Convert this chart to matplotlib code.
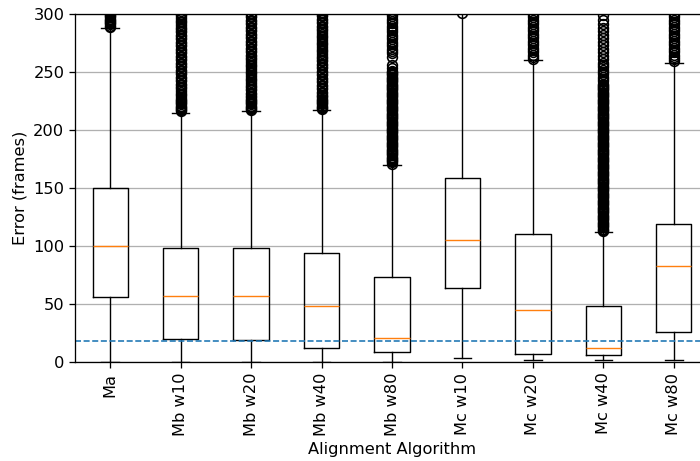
import matplotlib
matplotlib.use('Agg')
import matplotlib.pyplot as plt

labels = ['Ma', 'Mb w10', 'Mb w20', 'Mb w40', 'Mb w80',
          'Mc w10', 'Mc w20', 'Mc w40', 'Mc w80']
medians = [100, 57, 57, 48, 21, 105, 45, 12, 83]
q1s = [56, 20, 19, 12, 9, 64, 7, 6, 26]
q3s = [150, 98, 98, 94, 73, 159, 110, 48, 119]
whis_lo = [0, 0, 0, 0, 0, 3, 2, 2, 2]
whis_hi = [288, 215, 216, 217, 170, 302, 260, 112, 258]

# outliers (columns are very dense in the original)
fliers = [
    [289, 290, 291, 292, 293, 294, 295, 296, 297, 298, 299, 300, 301],
    [216, 217, 218, 219, 220, 221, 222, 223, 224, 225, 226, 227, 228, 230, 231,
     233, 234, 236, 237, 239, 240, 242, 243, 245, 246, 248, 249, 251, 252, 254,
     255, 257, 258, 260, 261, 263, 264, 266, 267, 269, 270, 272, 273, 275, 276,
     278, 279, 281, 282, 284, 285, 287, 288, 290, 291, 293, 294, 296, 297, 299, 300],
    [217, 218, 219, 220, 221, 222, 223, 224, 225, 226, 227, 228, 229, 231, 232,
     234, 235, 237, 238, 240, 241, 243, 244, 246, 247, 249, 250, 252, 253, 255,
     256, 258, 259, 261, 262, 264, 265, 267, 268, 270, 271, 273, 274, 276, 277,
     279, 280, 282, 283, 285, 286, 288, 289, 291, 292, 294, 295, 297, 298, 300, 301],
    [218, 219, 220, 221, 222, 223, 224, 225, 226, 227, 228, 229, 230, 232, 233,
     235, 236, 238, 239, 241, 242, 244, 245, 247, 248, 250, 251, 253, 254, 256,
     257, 259, 260, 262, 263, 265, 266, 268, 269, 271, 272, 274, 275, 277, 278,
     280, 281, 283, 284, 286, 287, 289, 290, 292, 293, 295, 296, 298, 299, 301],
    [171, 172, 173, 174, 175, 176, 177, 178, 179, 180, 181, 182, 183, 184, 185,
     186, 187, 188, 189, 190, 191, 192, 193, 194, 195, 196, 197, 198, 199, 200,
     201, 202, 203, 204, 205, 206, 207, 208, 209, 210, 211, 212, 213, 214, 215,
     216, 217, 218, 219, 220, 221, 222, 223, 224, 225, 226, 227, 228, 229, 230,
     231, 232, 233, 234, 235, 236, 237, 238, 239, 240, 241, 242, 243, 244, 245,
     246, 247, 248, 249, 250, 251, 253, 256, 263, 266, 268, 270, 272, 274, 276,
     278, 280, 282, 284, 286, 288, 290, 292, 294, 296, 298, 300, 301],
    [300.5],
    [261, 263, 265, 267, 269, 271, 273, 275, 277, 279, 281, 283, 285, 287, 289,
     291, 293, 295, 297, 299, 301],
    [113, 114, 115, 116, 117, 118, 119, 120, 121, 122, 123, 124, 125, 126, 127,
     128, 129, 130, 131, 132, 133, 134, 135, 136, 137, 138, 139, 140, 141, 142,
     143, 144, 145, 146, 147, 148, 149, 150, 151, 152, 153, 154, 155, 156, 157,
     158, 159, 160, 161, 162, 163, 164, 165, 166, 167, 168, 169, 170, 171, 172,
     173, 174, 175, 176, 177, 178, 179, 180, 181, 182, 183, 184, 185, 186, 187,
     188, 189, 190, 191, 192, 193, 194, 195, 196, 197, 198, 199, 200, 201, 202,
     203, 204, 205, 206, 207, 208, 209, 210, 211, 212, 213, 214, 215, 216, 217,
     218, 219, 220, 221, 222, 223, 224, 225, 226, 227, 228, 229, 230, 231, 232,
     233, 234, 235, 236, 237, 238, 239, 240, 242, 244, 246, 248, 250, 252, 254,
     256, 258, 261, 264, 267, 270, 273, 276, 279, 282, 285, 288, 291, 295, 299],
    [259, 261, 263, 265, 267, 269, 271, 273, 275, 277, 279, 281, 283, 285, 287,
     289, 291, 293, 295, 297, 299, 301],
]
threshold = 18

stats = []
for i in range(len(labels)):
    stats.append({
        'label': labels[i], 'med': medians[i], 'q1': q1s[i], 'q3': q3s[i],
        'whislo': whis_lo[i], 'whishi': whis_hi[i], 'fliers': fliers[i],
    })

# the original looks rendered a bit larger than default, scale fonts and lines
s = 1.17
plt.rcParams['font.size'] = 10 * s
plt.rcParams['lines.linewidth'] = 1.0 * s
plt.rcParams['axes.linewidth'] = 0.8 * s
plt.rcParams['grid.linewidth'] = 0.8 * s
plt.rcParams['xtick.major.width'] = 0.8 * s
plt.rcParams['ytick.major.width'] = 0.8 * s
plt.rcParams['xtick.major.size'] = 3.5 * s
plt.rcParams['ytick.major.size'] = 3.5 * s

fig = plt.figure(figsize=(7, 4.61), dpi=100)
ax = fig.add_axes([0.107, 0.2148, 0.906, 0.755])
flierprops = dict(marker='o', markersize=6 * s, markeredgewidth=1.0 * s)
ax.bxp(stats, flierprops=flierprops)
ax.axhline(threshold, linestyle='--', color='C0', linewidth=1.0 * s)
ax.set_ylim(0, 300)
ax.yaxis.grid(True)
ax.set_axisbelow(True)
ax.set_xticklabels(labels, rotation=90)
ax.set_xlabel('Alignment Algorithm')
ax.set_ylabel('Error (frames)')

fig.savefig('out.png', dpi=100)
